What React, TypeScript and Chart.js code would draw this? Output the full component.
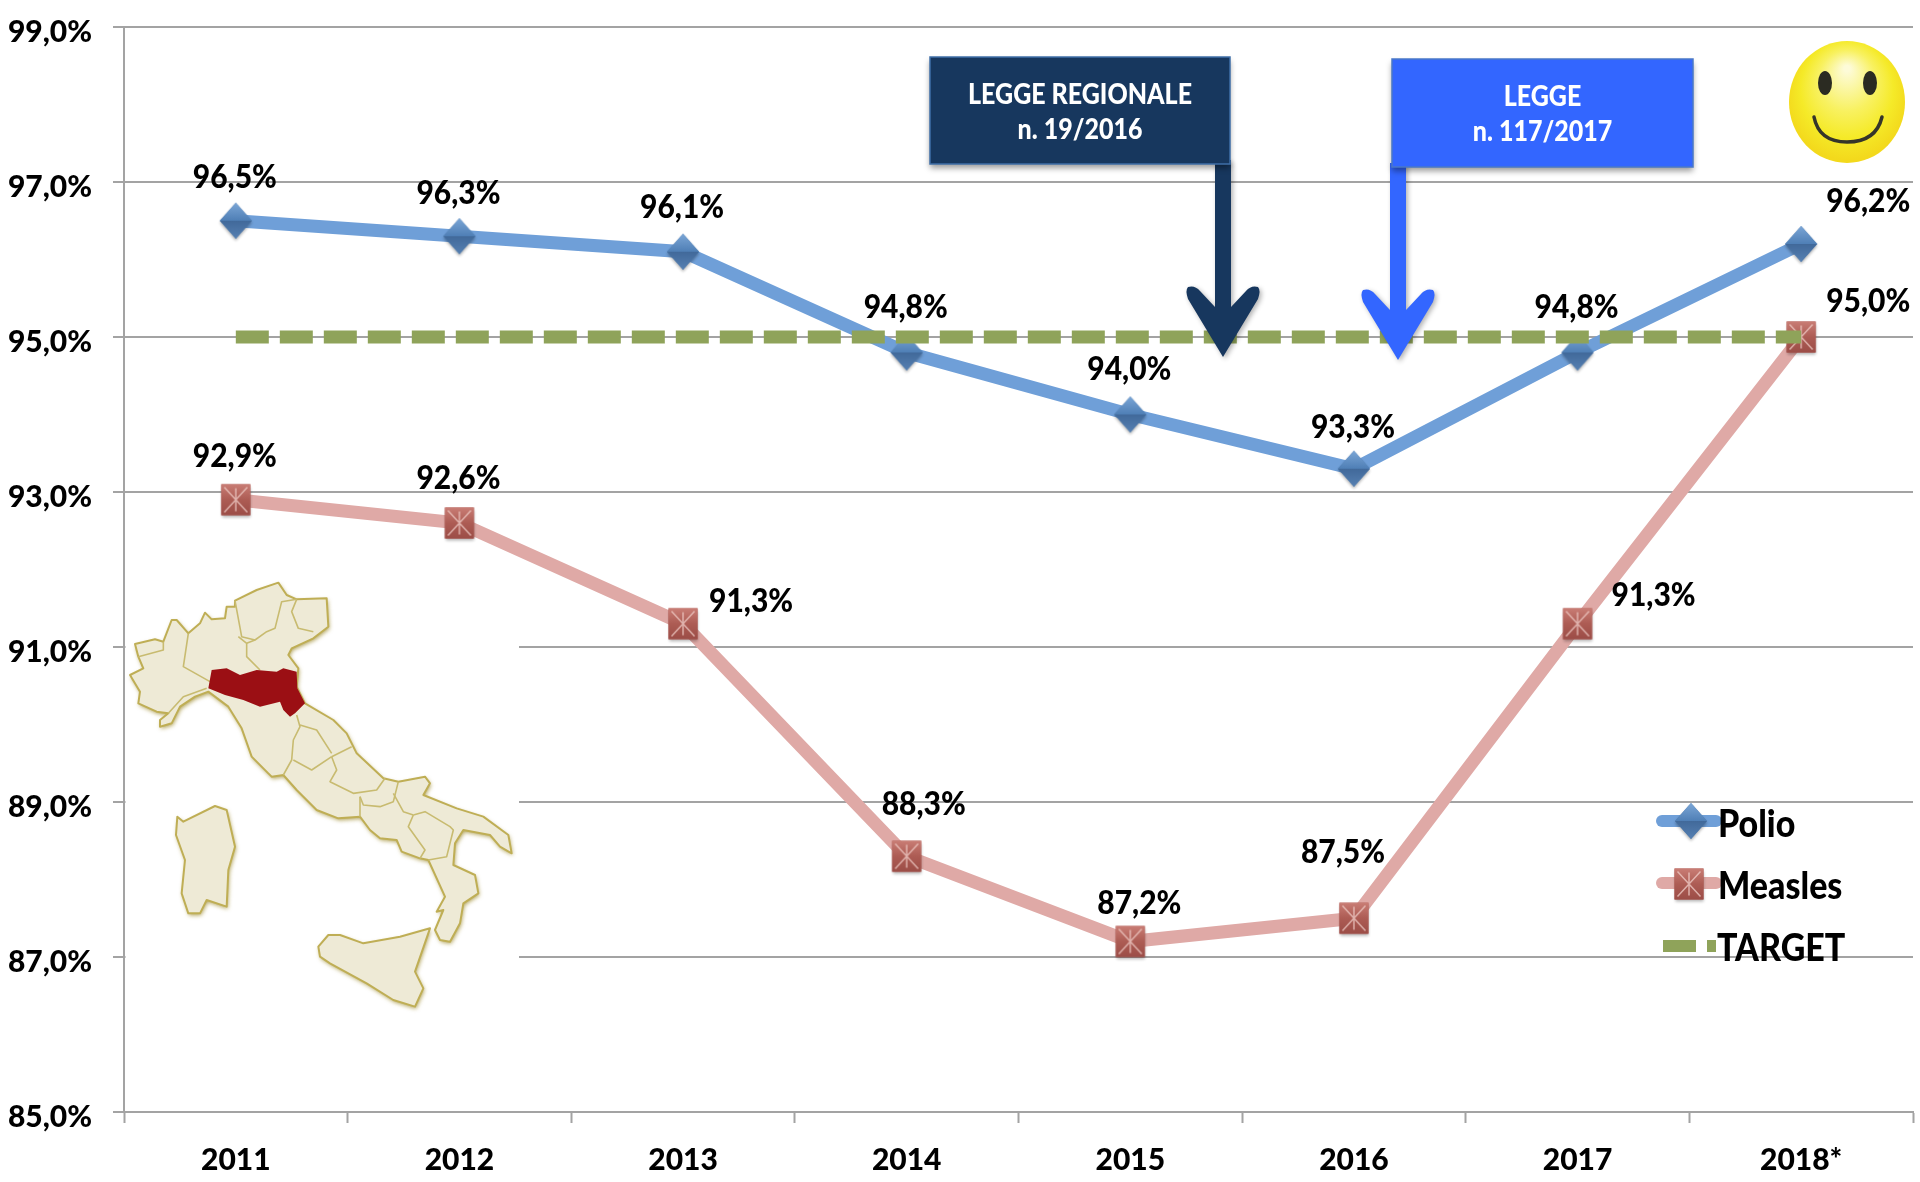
import React, { useEffect, useRef } from "react";
import { Chart, registerables } from "chart.js";

Chart.register(...registerables);

const years = ["2011", "2012", "2013", "2014", "2015", "2016", "2017", "2018*"];
const polioValues = [96.5, 96.3, 96.1, 94.8, 94.0, 93.3, 94.8, 96.2];
const measlesValues = [92.9, 92.6, 91.3, 88.3, 87.2, 87.5, 91.3, 95.0];
const targetValues = [95, 95, 95, 95, 95, 95, 95, 95];
const yMin = 85;
const yMax = 99;
const yStep = 2;

const polioLabelOffsets = [[-1, -43], [-1, -43], [-1, -44], [-1, -45], [-1, -45], [-1, -41], [-1, -45], [67, -43]];
const measlesLabelOffsets = [[-1, -43], [-1, -45], [68, -22], [17, -52], [9, -38], [-11, -66], [76, -28], [67, -36]];

const FONT = "Lato, 'Liberation Sans', sans-serif";
const GRID = "#a3a3a3";
const POLIO = "#6f9fd8";
const MEASLES = "#dfa9a6";
const TARGET = "#8fa35a";
const NAVY = "#17375e";
const BLUE = "#3366ff";

const fmt = (v: number) => v.toFixed(1).replace(".", ",") + "%";

function diamondMarker() {
  const c = document.createElement("canvas");
  c.width = 44;
  c.height = 48;
  const g = c.getContext("2d")!;
  const cx = 22, cy = 24, rx = 16, ry = 18;
  g.shadowColor = "rgba(0,0,0,0.3)";
  g.shadowBlur = 3;
  g.shadowOffsetY = 2;
  g.beginPath();
  g.moveTo(cx, cy - ry); g.lineTo(cx + rx, cy); g.lineTo(cx, cy + ry); g.lineTo(cx - rx, cy); g.closePath();
  g.fillStyle = "#4f7cb0";
  g.fill();
  g.shadowColor = "transparent";
  const top = g.createLinearGradient(0, cy - ry, 0, cy);
  top.addColorStop(0, "#7ba6d6");
  top.addColorStop(1, "#4f7fb6");
  g.fillStyle = top;
  g.beginPath();
  g.moveTo(cx, cy - ry); g.lineTo(cx + rx, cy); g.lineTo(cx - rx, cy); g.closePath();
  g.fill();
  const bot = g.createLinearGradient(0, cy, 0, cy + ry);
  bot.addColorStop(0, "#41699a");
  bot.addColorStop(1, "#5680b2");
  g.fillStyle = bot;
  g.beginPath();
  g.moveTo(cx, cy + ry); g.lineTo(cx + rx, cy); g.lineTo(cx - rx, cy); g.closePath();
  g.fill();
  return c;
}

function squareMarker() {
  const c = document.createElement("canvas");
  c.width = 44;
  c.height = 48;
  const g = c.getContext("2d")!;
  const cx = 22, cy = 24, rx = 14.5, ry = 15.5;
  g.shadowColor = "rgba(0,0,0,0.3)";
  g.shadowBlur = 3;
  g.shadowOffsetY = 2;
  g.fillStyle = "#a9554f";
  g.fillRect(cx - rx, cy - ry, rx * 2, ry * 2);
  g.shadowColor = "transparent";
  const gr = g.createLinearGradient(0, cy - ry, 0, cy + ry);
  gr.addColorStop(0, "#c97d75");
  gr.addColorStop(0.5, "#ad5c54");
  gr.addColorStop(1, "#9c4d47");
  g.fillStyle = gr;
  g.fillRect(cx - rx, cy - ry, rx * 2, ry * 2);
  g.strokeStyle = "rgba(240,205,200,0.75)";
  g.lineWidth = 1.5;
  g.beginPath();
  g.moveTo(cx - rx + 3, cy - ry + 3); g.lineTo(cx + rx - 3, cy + ry - 3);
  g.moveTo(cx + rx - 3, cy - ry + 3); g.lineTo(cx - rx + 3, cy + ry - 3);
  g.moveTo(cx, cy - ry + 4); g.lineTo(cx, cy + ry - 4);
  g.stroke();
  return c;
}

// --- decorations: map of Italy, traced in a 3x crop whose origin is (100,560) ---
const mainland = [[105,252],[165,238],[190,245],[215,180],[230,180],[265,220],[300,190],[315,158],[335,178],[375,175],[380,140],[405,140],[405,122],[470,90],[535,68],[560,105],[590,118],[680,115],[685,200],[640,235],[575,265],[565,285],[595,325],[590,380],[615,430],[700,480],[740,520],[770,580],[850,655],[895,665],[975,650],[990,670],[970,705],[1070,745],[1150,770],[1225,825],[1235,880],[1200,860],[1170,825],[1090,810],[1065,850],[1060,915],[1125,945],[1135,1000],[1090,1030],[1080,1090],[1050,1145],[1020,1140],[1005,1110],[1030,1050],[1010,1055],[1035,1010],[985,900],[960,895],[905,875],[890,840],[840,835],[810,810],[780,770],[715,775],[650,750],[590,690],[550,645],[515,650],[505,640],[455,590],[425,505],[385,440],[325,395],[285,410],[240,440],[215,490],[180,500],[180,480],[205,460],[170,455],[115,430],[120,395],[90,345],[130,325],[115,290]];
const sardinia = [[232,770],[250,785],[345,738],[380,750],[405,860],[385,930],[380,1040],[320,1020],[300,1060],[265,1060],[245,1000],[255,900],[228,825]];
const sicily = [[655,1160],[685,1125],[720,1125],[790,1150],[900,1130],[990,1105],[945,1235],[970,1285],[945,1340],[880,1320],[800,1270],[690,1210],[660,1190]];
const emilia = [[335,330],[380,325],[420,345],[470,330],[530,335],[550,325],[590,335],[592,385],[615,430],[585,460],[570,470],[550,450],[540,425],[480,440],[430,420],[375,405],[325,385]];
const borders = [
  [[265,220],[250,320],[330,365]],
  [[205,460],[250,410],[320,385]],
  [[115,290],[190,270],[190,245]],
  [[405,122],[425,230],[465,240],[500,215],[525,205],[545,125],[590,118]],
  [[590,118],[575,155],[595,205],[640,215]],
  [[415,230],[440,250],[440,290],[480,330]],
  [[465,240],[440,250]],
  [[590,465],[600,500],[580,540],[575,600],[550,645]],
  [[600,495],[650,510],[695,580]],
  [[580,600],[635,630],[695,590]],
  [[695,590],[755,560]],
  [[695,590],[710,630],[690,665],[760,700],[830,690],[855,655]],
  [[780,710],[790,735],[840,740],[880,725],[895,665]],
  [[880,700],[910,755],[940,765]],
  [[940,765],[925,800],[975,870],[960,895]],
  [[940,765],[975,755],[1050,800],[1060,810],[1040,890],[985,900]],
  [[780,710],[780,770]],
];

function tracePts(g: CanvasRenderingContext2D, pts: number[][], close: boolean) {
  g.beginPath();
  pts.forEach(([x, y], i) => {
    const px = 100 + x / 3, py = 560 + y / 3;
    if (i === 0) g.moveTo(px, py); else g.lineTo(px, py);
  });
  if (close) g.closePath();
}

function drawMap(g: CanvasRenderingContext2D) {
  g.save();
  g.fillStyle = "#ffffff";
  g.fillRect(125.5, 590, 393.5, 430);
  g.lineJoin = "round";
  for (const shape of [mainland, sardinia, sicily]) {
    tracePts(g, shape, true);
    g.shadowColor = "rgba(150,130,30,0.75)";
    g.shadowBlur = 4;
    g.shadowOffsetX = 1;
    g.shadowOffsetY = 2;
    g.fillStyle = "#eeead6";
    g.fill();
    g.shadowColor = "transparent";
    g.strokeStyle = "#bfae55";
    g.lineWidth = 2;
    g.stroke();
  }
  g.strokeStyle = "#c8bb70";
  g.lineWidth = 1.6;
  for (const b of borders) {
    tracePts(g, b, false);
    g.stroke();
  }
  tracePts(g, emilia, true);
  g.fillStyle = "#9b0f14";
  g.fill();
  g.restore();
}

function stretchedText(g: CanvasRenderingContext2D, t: string, x: number, y: number, sy: number) {
  g.save();
  g.translate(x, y);
  g.scale(1, sy);
  g.fillText(t, 0, 0);
  g.restore();
}

function drawBox(g: CanvasRenderingContext2D, x0: number, y0: number, x1: number, y1: number, fill: string, border: string, lines: string[], ys: number[]) {
  g.save();
  g.shadowColor = "rgba(0,0,0,0.4)";
  g.shadowBlur = 6;
  g.shadowOffsetY = 4;
  g.fillStyle = fill;
  g.fillRect(x0, y0, x1 - x0, y1 - y0);
  g.shadowColor = "transparent";
  g.strokeStyle = border;
  g.lineWidth = 1.5;
  g.strokeRect(x0, y0, x1 - x0, y1 - y0);
  g.fillStyle = "#ffffff";
  g.font = `900 25px ${FONT}`;
  g.textAlign = "center";
  g.textBaseline = "middle";
  lines.forEach((t, i) => stretchedText(g, t, (x0 + x1) / 2, ys[i], 1.1));
  g.restore();
}

function drawArrow(g: CanvasRenderingContext2D, cx: number, yTop: number, tipY: number, color: string) {
  g.save();
  g.shadowColor = "rgba(0,0,0,0.3)";
  g.shadowBlur = 5;
  g.shadowOffsetX = 2;
  g.shadowOffsetY = 2;
  g.fillStyle = color;
  g.beginPath();
  g.moveTo(cx - 8, yTop);
  g.lineTo(cx + 8, yTop);
  g.lineTo(cx + 8, tipY - 50);
  g.lineTo(cx + 23, tipY - 66);
  g.quadraticCurveTo(cx + 28, tipY - 72, cx + 35, tipY - 70);
  g.quadraticCurveTo(cx + 38, tipY - 67, cx + 35, tipY - 58);
  g.lineTo(cx, tipY);
  g.lineTo(cx - 35, tipY - 58);
  g.quadraticCurveTo(cx - 38, tipY - 67, cx - 35, tipY - 70);
  g.quadraticCurveTo(cx - 28, tipY - 72, cx - 23, tipY - 66);
  g.lineTo(cx - 8, tipY - 50);
  g.closePath();
  g.fill();
  g.restore();
}

function drawSmiley(g: CanvasRenderingContext2D) {
  const cx = 1847, cy = 102, rx = 58, ry = 61;
  g.save();
  g.save();
  g.translate(cx, cy);
  g.scale(rx, ry);
  const grad = g.createRadialGradient(0, -0.55, 0.05, 0, -0.1, 1.05);
  grad.addColorStop(0, "#fdfbd8");
  grad.addColorStop(0.45, "#f8f160");
  grad.addColorStop(0.75, "#f5ea28");
  grad.addColorStop(1, "#f3d91c");
  g.fillStyle = grad;
  g.beginPath();
  g.arc(0, 0, 1, 0, Math.PI * 2);
  g.fill();
  g.restore();
  g.fillStyle = "#2b2b22";
  for (const ex of [1825, 1870]) {
    g.beginPath();
    g.ellipse(ex, 83, 7, 12, 0, 0, Math.PI * 2);
    g.fill();
  }
  g.strokeStyle = "#35352a";
  g.lineWidth = 3.5;
  g.lineCap = "round";
  g.beginPath();
  g.moveTo(1814, 117);
  g.quadraticCurveTo(1819, 142, 1847, 142);
  g.quadraticCurveTo(1876, 142, 1882, 117);
  g.stroke();
  g.restore();
}

export default function App() {
  const ref = useRef<HTMLCanvasElement>(null);
  useEffect(() => {
    const diamond = diamondMarker();
    const square = squareMarker();

    const overlay = {
      id: "overlay",
      beforeDatasetsDraw(chart: any) {
        drawMap(chart.ctx);
      },
      afterDatasetsDraw(chart: any) {
        const g: CanvasRenderingContext2D = chart.ctx;
        g.save();
        // data labels
        g.fillStyle = "#000";
        g.font = `900 30px ${FONT}`;
        g.textAlign = "center";
        g.textBaseline = "middle";
        const offs = [polioLabelOffsets, measlesLabelOffsets];
        [0, 1].forEach((di) => {
          const meta = chart.getDatasetMeta(di);
          meta.data.forEach((pt: any, i: number) => {
            stretchedText(g, fmt(chart.data.datasets[di].data[i]), pt.x + offs[di][i][0], pt.y + offs[di][i][1], 1.1);
          });
        });
        // arrows and boxes
        drawArrow(g, 1223, 160, 357, NAVY);
        drawArrow(g, 1398, 163, 360, BLUE);
        drawBox(g, 930, 57, 1230, 164, NAVY, "#3f6fa8", ["LEGGE REGIONALE", "n. 19/2016"], [95, 130]);
        drawBox(g, 1392, 59, 1693, 167, BLUE, "#4a78c8", ["LEGGE", "n. 117/2017"], [97, 132]);
        drawSmiley(g);
        // legend
        const names = chart.data.datasets.map((d: any) => d.label);
        g.lineCap = "round";
        g.lineWidth = 12;
        g.strokeStyle = POLIO;
        g.beginPath(); g.moveTo(1662, 821); g.lineTo(1716, 821); g.stroke();
        g.drawImage(diamond, 1691 - 22, 821 - 24);
        g.strokeStyle = MEASLES;
        g.beginPath(); g.moveTo(1662, 883); g.lineTo(1716, 883); g.stroke();
        g.drawImage(square, 1689 - 22, 884 - 24);
        g.fillStyle = TARGET;
        g.fillRect(1663, 940, 33, 12);
        g.fillRect(1707, 940, 9, 12);
        g.fillStyle = "#000";
        g.font = `900 34px ${FONT}`;
        g.textAlign = "left";
        stretchedText(g, names[0], 1718, 825, 1.1);
        stretchedText(g, names[1], 1718, 887, 1.1);
        stretchedText(g, names[2], 1717, 949, 1.1);
        g.restore();
      },
    };

    const chart = new Chart(ref.current!, {
      type: "line",
      data: {
        labels: years,
        datasets: [
          { label: "Polio", data: polioValues, borderColor: POLIO, backgroundColor: POLIO, borderWidth: 13, pointStyle: diamond as any, pointRadius: 18, order: 3, tension: 0, fill: false },
          { label: "Measles", data: measlesValues, borderColor: MEASLES, backgroundColor: MEASLES, borderWidth: 13, pointStyle: square as any, pointRadius: 18, order: 2, tension: 0, fill: false },
          { label: "TARGET", data: targetValues, borderColor: TARGET, backgroundColor: TARGET, borderWidth: 13, borderDash: [33, 11], pointRadius: 0, order: 1, tension: 0, fill: false },
        ],
      },
      options: {
        animation: false,
        responsive: false,
        maintainAspectRatio: false,
        layout: { autoPadding: false, padding: { top: 27, right: 7, left: 0, bottom: 0 } },
        plugins: { legend: { display: false }, title: { display: false }, tooltip: { enabled: false } },
        scales: {
          x: {
            offset: true,
            afterFit: (s: any) => { s.height = 70; s.paddingLeft = 0; s.paddingRight = 0; },
            border: { color: GRID, width: 2 },
            grid: { display: true, drawOnChartArea: false, drawTicks: true, tickLength: 11, tickWidth: 2, tickColor: GRID, offset: true },
            ticks: { color: "#000", font: { family: FONT, size: 30, weight: "900" }, padding: 19, maxRotation: 0, autoSkip: false },
          },
          y: {
            min: yMin,
            max: yMax,
            afterFit: (s: any) => { s.width = 124; s.paddingTop = 0; s.paddingBottom = 0; },
            border: { color: GRID, width: 2 },
            grid: { color: GRID, lineWidth: 2, drawTicks: true, tickLength: 11, tickWidth: 2, tickColor: GRID },
            ticks: { stepSize: yStep, color: "#000", font: { family: FONT, size: 30, weight: "900" }, padding: 21, labelOffset: 5, callback: (v: any) => fmt(Number(v)) },
          },
        },
      },
      plugins: [overlay],
    } as any);
    return () => chart.destroy();
  }, []);
  return (
    <div style={{ position: "absolute", left: 0, top: 0, width: 1920, height: 1182, background: "#fff" }}>
      <canvas ref={ref} width={1920} height={1182} style={{ display: "block" }} />
    </div>
  );
}
